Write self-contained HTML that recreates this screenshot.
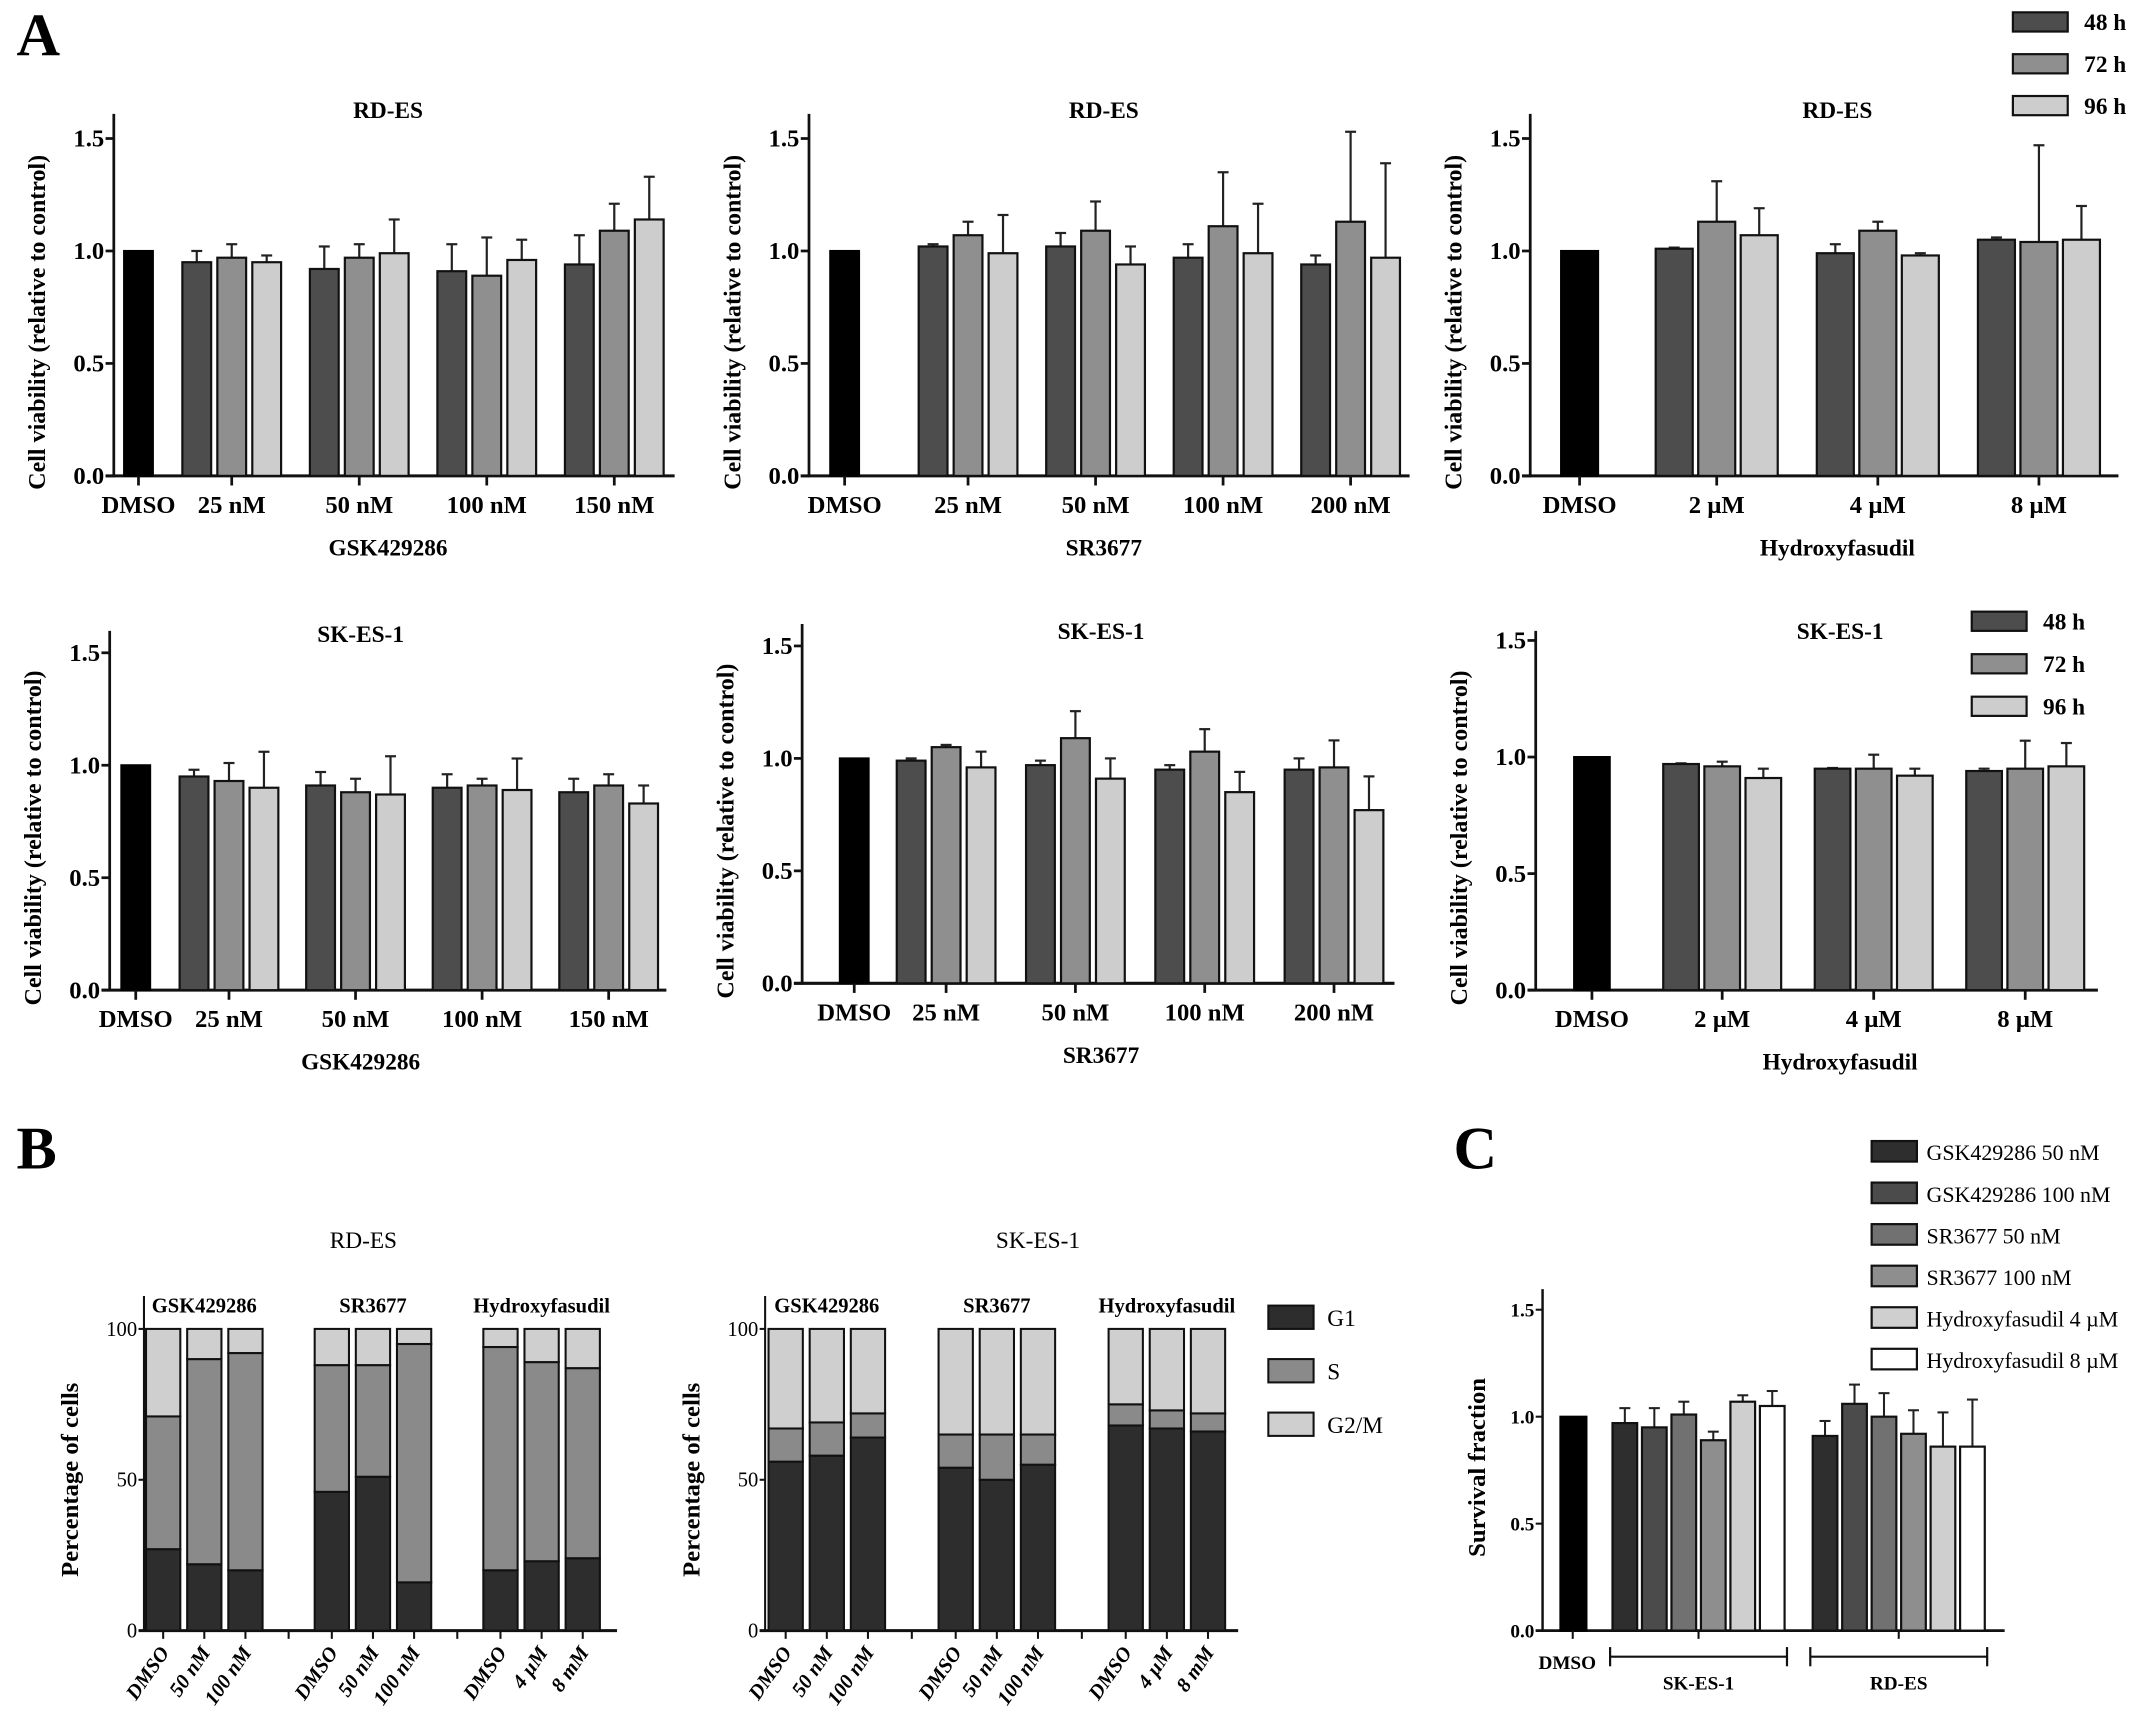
<!DOCTYPE html>
<html><head><meta charset="utf-8">
<style>
html,body{margin:0;padding:0;background:#fff;}
svg{display:block;font-family:"Liberation Serif",serif;font-weight:bold;}
</style></head>
<body>
<svg id="fig" width="2150" height="1728" viewBox="0 0 1568 1260" preserveAspectRatio="none" xmlns="http://www.w3.org/2000/svg">
<text x="12" y="40" font-size="44">A</text>
<text x="12" y="852" font-size="44">B</text>
<text x="1060" y="852" font-size="44">C</text>
</svg>
<script>
// ---------- Panel A data ----------
const aTimes = ['48 h','72 h','96 h'];
const gskCats = ['25 nM','50 nM','100 nM','150 nM'];
const srCats = ['25 nM','50 nM','100 nM','200 nM'];
const hfCats = ['2 µM','4 µM','8 µM'];
const yTicksA = [0,0.5,1.0,1.5];
const yTickLabelsA = ['0.0','0.5','1.0','1.5'];
const dmsoVal = 1.0;
const rdGskVals = [[0.95,0.97,0.95],[0.92,0.97,0.99],[0.91,0.89,0.96],[0.94,1.09,1.14]];
const rdGskErr  = [[0.05,0.06,0.03],[0.10,0.06,0.15],[0.12,0.17,0.09],[0.13,0.12,0.19]];
const rdSrVals  = [[1.02,1.07,0.99],[1.02,1.09,0.94],[0.97,1.11,0.99],[0.94,1.13,0.97]];
const rdSrErr   = [[0.01,0.06,0.17],[0.06,0.13,0.08],[0.06,0.24,0.22],[0.04,0.40,0.42]];
const rdHfVals  = [[1.01,1.13,1.07],[0.99,1.09,0.98],[1.05,1.04,1.05]];
const rdHfErr   = [[0.005,0.18,0.12],[0.04,0.04,0.01],[0.01,0.43,0.15]];
const skGskVals = [[0.95,0.93,0.90],[0.91,0.88,0.87],[0.90,0.91,0.89],[0.88,0.91,0.83]];
const skGskErr  = [[0.03,0.08,0.16],[0.06,0.06,0.17],[0.06,0.03,0.14],[0.06,0.05,0.08]];
const skSrVals  = [[0.99,1.05,0.96],[0.97,1.09,0.91],[0.95,1.03,0.85],[0.95,0.96,0.77]];
const skSrErr   = [[0.01,0.01,0.07],[0.02,0.12,0.09],[0.02,0.10,0.09],[0.05,0.12,0.15]];
const skHfVals  = [[0.97,0.96,0.91],[0.95,0.95,0.92],[0.94,0.95,0.96]];
const skHfErr   = [[0.003,0.02,0.04],[0.003,0.06,0.03],[0.01,0.12,0.10]];
// ---------- Panel B data ----------
const bPhases = ['G1','S','G2/M'];
const bGroups = ['GSK429286','SR3677','Hydroxyfasudil'];
const bCats = [['DMSO','50 nM','100 nM'],['DMSO','50 nM','100 nM'],['DMSO','4 µM','8 mM']];
const rdG1 = [[27,22,20],[46,51,16],[20,23,24]];
const rdS  = [[44,68,72],[42,37,79],[74,66,63]];
const skG1 = [[56,58,64],[54,50,55],[68,67,66]];
const skS  = [[11,11,8],[11,15,10],[7,6,6]];
const yTicksB = [0,50,100];
// ---------- Panel C data ----------
const cSeries = ['GSK429286 50 nM','GSK429286 100 nM','SR3677 50 nM','SR3677 100 nM','Hydroxyfasudil 4 µM','Hydroxyfasudil 8 µM'];
const cGroups = ['SK-ES-1','RD-ES'];
const cVals = [[0.97,0.95,1.01,0.89,1.07,1.05],[0.91,1.06,1.00,0.92,0.86,0.86]];
const cErr  = [[0.07,0.09,0.06,0.04,0.03,0.07],[0.07,0.09,0.11,0.11,0.16,0.22]];

const NS='http://www.w3.org/2000/svg';
const svg=document.getElementById('fig');
function mk(tag,attrs,parent){const e=document.createElementNS(NS,tag);for(const k in attrs)e.setAttribute(k,attrs[k]);(parent||svg).appendChild(e);return e;}
function txt(x,y,s,size,anchor,parent){const t=mk('text',{x:x,y:y,'font-size':size,'text-anchor':anchor||'middle'},parent);t.textContent=s;return t;}
const aFills=['#4d4d4d','#8f8f8f','#cdcdcd'];

function chartA(cfg,vals,errs,cats,name){
  const g=mk('g',{});
  
  
  const y=v=>cfg.zero-v*cfg.unit;
  const ya=mk('line',{x1:cfg.ax,y1:cfg.top,x2:cfg.ax,y2:cfg.zero+1,stroke:'#111','stroke-width':2},g);
  
  
  const xa=mk('line',{x1:cfg.ax-6,y1:cfg.zero,x2:cfg.xEnd,y2:cfg.zero,stroke:'#111','stroke-width':2.2},g);
  
  
  yTicksA.forEach((t,i)=>{
    mk('line',{x1:cfg.ax-6,y1:y(t),x2:cfg.ax,y2:y(t),stroke:'#111','stroke-width':2},g);
    const tl=txt(cfg.ax-7,y(t)+6,yTickLabelsA[i],18,'end',g);
    
    
  });
  const yl=txt(0,0,'Cell viability (relative to control)',17.5,'middle',g);
  yl.setAttribute('transform',`translate(${cfg.ax-50},${(cfg.top+cfg.zero)/2+20}) rotate(-90)`);
  
  
  const ti=txt(cfg.titleX,cfg.titleY,cfg.title,17,'middle',g);
  
  
  const xl=txt(cfg.titleX,cfg.zero+58,cfg.xlabel,17,'middle',g);
  
  
  const db=mk('rect',{x:cfg.dmso-cfg.bw/2,y:y(dmsoVal),width:cfg.bw,height:cfg.zero-y(dmsoVal),fill:'#000',stroke:'#000','stroke-width':1.5},g);
  
  
  mk('line',{x1:cfg.dmso,y1:cfg.zero,x2:cfg.dmso,y2:cfg.zero+7,stroke:'#111','stroke-width':2},g);
  const dl=txt(cfg.dmso,cfg.zero+27,'DMSO',18,'middle',g);
  
  
  cats.forEach((c,i)=>{
    const cx=cfg.g0+i*cfg.gs;
    mk('line',{x1:cx,y1:cfg.zero,x2:cx,y2:cfg.zero+7,stroke:'#111','stroke-width':2},g);
    const cl=txt(cx,cfg.zero+27,c,18,'middle',g);
    
    
    vals[i].forEach((v,j)=>{
      const bx=cx+(j-1)*cfg.pitch-cfg.bw/2;
      const e=errs[i][j];
      const ex=bx+cfg.bw/2;
      mk('line',{x1:ex,y1:y(v),x2:ex,y2:y(v+e),stroke:'#222','stroke-width':1.6},g);
      mk('line',{x1:ex-4,y1:y(v+e),x2:ex+4,y2:y(v+e),stroke:'#222','stroke-width':1.6},g);
      const r=mk('rect',{x:bx,y:y(v),width:cfg.bw,height:cfg.zero-y(v),fill:aFills[j],stroke:'#111','stroke-width':1.6},g);
      
      
    });
  });
}
function legendA(x,y0,dy){
  const g=mk('g',{});
  
  
  aTimes.forEach((t,i)=>{
    const yy=y0+i*dy;
    const r=mk('rect',{x:x,y:yy,width:40,height:14,fill:aFills[i],stroke:'#111','stroke-width':1.6},g);
    
    
    const l=txt(x+52,yy+13,t,17,'start',g);
    
    
  });
}
const base1={zero:347,unit:164,top:83,bw:21,pitch:25.5};
chartA(Object.assign({},base1,{ax:83,xEnd:492,dmso:101,g0:169,gs:93,title:'RD-ES',titleX:283,titleY:86,xlabel:'GSK429286'}),rdGskVals,rdGskErr,gskCats,'chart-rdes-gsk');
chartA(Object.assign({},base1,{ax:590,xEnd:1028,dmso:616,g0:706,gs:93,title:'RD-ES',titleX:805,titleY:86,xlabel:'SR3677'}),rdSrVals,rdSrErr,srCats,'chart-rdes-sr');
chartA(Object.assign({},base1,{ax:1116,xEnd:1545,dmso:1152,g0:1252,gs:117.5,bw:27,pitch:31,title:'RD-ES',titleX:1340,titleY:86,xlabel:'Hydroxyfasudil'}),rdHfVals,rdHfErr,hfCats,'chart-rdes-hf');
legendA(1468,9,30.5);
const base2={zero:722,unit:164,top:460,bw:21,pitch:25.5};
chartA(Object.assign({},base2,{ax:80,xEnd:486,dmso:99,g0:167,gs:92.3,title:'SK-ES-1',titleX:263,titleY:468,xlabel:'GSK429286'}),skGskVals,skGskErr,gskCats,'chart-skes-gsk');
chartA(Object.assign({},base2,{ax:585,zero:717,top:455,xEnd:1017,dmso:623,g0:690,gs:94.3,title:'SK-ES-1',titleX:803,titleY:466,xlabel:'SR3677'}),skSrVals,skSrErr,srCats,'chart-skes-sr');
chartA(Object.assign({},base2,{ax:1120,unit:170,xEnd:1530,dmso:1161,g0:1256,gs:110.5,bw:26,pitch:30,title:'SK-ES-1',titleX:1342,titleY:466,xlabel:'Hydroxyfasudil'}),skHfVals,skHfErr,hfCats,'chart-skes-hf');
legendA(1438,446,31);

// ---------- Panel B ----------
const bFills=['#2d2d2d','#8a8a8a','#cfcfcf'];
function chartB(cfg,g1,s,name){
  const g=mk('g',{});
  
  
  const y=v=>cfg.zero-v*cfg.unit;
  mk('line',{x1:cfg.ax,y1:cfg.top,x2:cfg.ax,y2:cfg.zero,stroke:'#111','stroke-width':1.5},g);
  mk('line',{x1:cfg.ax-4,y1:cfg.zero,x2:cfg.xEnd,y2:cfg.zero,stroke:'#111','stroke-width':2.2},g);
  yTicksB.forEach(t=>{
    mk('line',{x1:cfg.ax-4,y1:y(t),x2:cfg.ax,y2:y(t),stroke:'#111','stroke-width':1.5},g);
    const tl=txt(cfg.ax-5,y(t)+5,String(t),15,'end',g);
    tl.setAttribute('font-weight','normal');
    
    
  });
  const yl=txt(0,0,'Percentage of cells',18,'middle',g);
  yl.setAttribute('transform',`translate(${cfg.ax-48},${cfg.zero-110}) rotate(-90)`);
  
  
  const ti=txt(cfg.titleX,910,cfg.title,17,'middle',g);
  ti.setAttribute('font-weight','normal');
  
  
  bGroups.forEach((gn,gi)=>{
    const gl=txt(cfg.g0+gi*cfg.gs+cfg.pitch,957,gn,15,'middle',g);
    
    
    bCats[gi].forEach((c,ci)=>{
      const cx=cfg.g0+gi*cfg.gs+ci*cfg.pitch;
      const x=cx-cfg.bw/2;
      const v1=g1[gi][ci], v2=v1+s[gi][ci];
      [[0,v1],[v1,v2],[v2,100]].forEach((seg,k)=>{
        const r=mk('rect',{x:x,y:y(seg[1]),width:cfg.bw,height:(seg[1]-seg[0])*cfg.unit,fill:bFills[k],stroke:'#111','stroke-width':1.5},g);
        
        
      });
      mk('line',{x1:cx,y1:cfg.zero,x2:cx,y2:cfg.zero+6,stroke:'#111','stroke-width':1.5},g);
      const tl=txt(0,0,c,15,'end',g);
      tl.setAttribute('transform',`translate(${cx+5},${cfg.zero+16}) rotate(-55)`);
      tl.setAttribute('font-style','italic');
      
      
    });
    if(gi<2){const gx=cfg.g0+gi*cfg.gs+2*cfg.pitch+(cfg.gs-2*cfg.pitch)/2;
      mk('line',{x1:gx,y1:cfg.zero,x2:gx,y2:cfg.zero+6,stroke:'#111','stroke-width':1.5},g);}
  });
}
chartB({ax:105,top:945,zero:1189,unit:2.2,xEnd:450,g0:119,gs:123,pitch:30,bw:25,title:'RD-ES',titleX:265},rdG1,rdS,'chart-b-rdes');
chartB({ax:558,top:945,zero:1189,unit:2.2,xEnd:903,g0:573,gs:124,pitch:30,bw:25,title:'SK-ES-1',titleX:757},skG1,skS,'chart-b-skes');
(function(){
  const g=mk('g',{});
  
  
  bPhases.forEach((p,i)=>{
    const yy=952+i*39;
    const r=mk('rect',{x:925,y:yy,width:33,height:17,fill:bFills[i],stroke:'#111','stroke-width':1.5},g);
    
    
    const l=txt(968,yy+15,p,17,'start',g);
    l.setAttribute('font-weight','normal');
    
    
  });
})();

// ---------- Panel C ----------
(function(){
  const cFills=['#2e2e2e','#4b4b4b','#717171','#8e8e8e','#cfcfcf','#ffffff'];
  const ax=1125, zero=1189, unit=156, top=940, xEnd=1462, bw=18, pitch=21.5;
  const y=v=>zero-v*unit;
  const g=mk('g',{});
  
  
  mk('line',{x1:ax,y1:top,x2:ax,y2:zero,stroke:'#111','stroke-width':1.8},g);
  mk('line',{x1:ax-5,y1:zero,x2:xEnd,y2:zero,stroke:'#111','stroke-width':2},g);
  [0,0.5,1.0,1.5].forEach((t,i)=>{
    mk('line',{x1:ax-5,y1:y(t),x2:ax,y2:y(t),stroke:'#111','stroke-width':1.5},g);
    const tl=txt(ax-6,y(t)+5,['0.0','0.5','1.0','1.5'][i],14,'end',g);
    
    
  });
  const yl=txt(0,0,'Survival fraction',18,'middle',g);
  yl.setAttribute('transform',`translate(1083,1070) rotate(-90)`);
  
  
  const d=mk('rect',{x:1138,y:y(dmsoVal),width:19,height:unit*dmsoVal,fill:'#000',stroke:'#000','stroke-width':1.5},g);
  
  
  mk('line',{x1:1147,y1:zero,x2:1147,y2:zero+6,stroke:'#111','stroke-width':1.5},g);
  const dl=txt(1143,1217,'DMSO',14,'middle',g);
  
  
  const starts=[1185,1331];
  cGroups.forEach((gn,gi)=>{
    cVals[gi].forEach((v,k)=>{
      const cx=starts[gi]+k*pitch;
      const e=cErr[gi][k];
      mk('line',{x1:cx,y1:y(v),x2:cx,y2:y(v+e),stroke:'#222','stroke-width':1.5},g);
      mk('line',{x1:cx-4,y1:y(v+e),x2:cx+4,y2:y(v+e),stroke:'#222','stroke-width':1.5},g);
      const r=mk('rect',{x:cx-bw/2,y:y(v),width:bw,height:v*unit,fill:cFills[k],stroke:'#111','stroke-width':1.6},g);
      
      
    });
    const x1=starts[gi]-pitch/2, x2=starts[gi]+5.5*pitch, mid=(x1+x2)/2;
    mk('line',{x1:mid,y1:zero,x2:mid,y2:zero+6,stroke:'#111','stroke-width':1.5},g);
    mk('line',{x1:x1,y1:1208,x2:x2,y2:1208,stroke:'#111','stroke-width':1.6},g);
    mk('line',{x1:x1,y1:1201,x2:x1,y2:1215,stroke:'#111','stroke-width':1.6},g);
    mk('line',{x1:x2,y1:1201,x2:x2,y2:1215,stroke:'#111','stroke-width':1.6},g);
    const gl=txt(mid,1232,gn,14,'middle',g);
    
    
  });
  const lg=mk('g',{});
  
  
  cSeries.forEach((s,i)=>{
    const yy=832+i*30.3;
    const r=mk('rect',{x:1365,y:yy,width:33,height:15,fill:cFills[i],stroke:'#111','stroke-width':1.6},lg);
    
    
    const l=txt(1405,yy+14,s,16,'start',lg);
    l.setAttribute('font-weight','normal');
    
    
  });
})();
</script>
</body></html>
